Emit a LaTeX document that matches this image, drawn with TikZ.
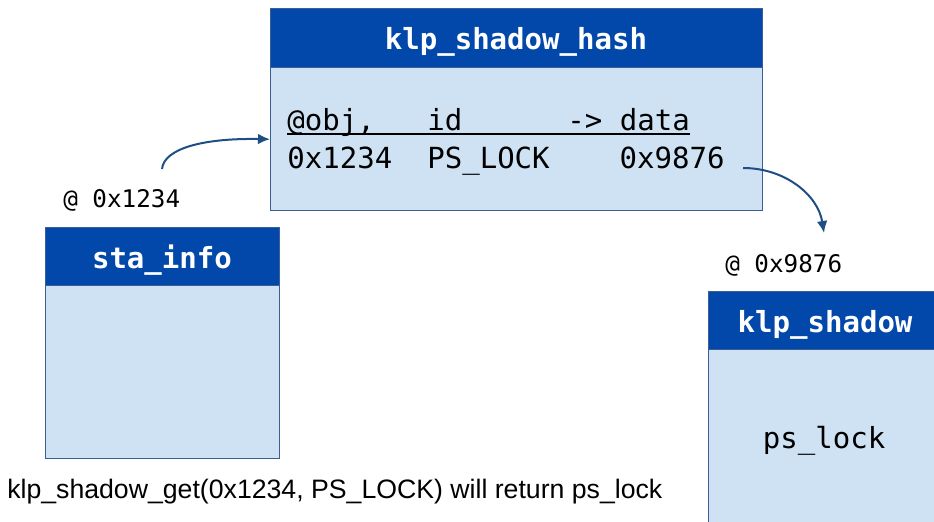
\documentclass[tikz,border=0pt]{standalone}
\usepackage{fontspec}
\setmainfont{Liberation Sans}
\setmonofont{DejaVu Sans Mono}
\usetikzlibrary{arrows.meta}
\definecolor{hdr}{HTML}{0148AA}
\definecolor{bodyc}{HTML}{CFE2F3}
\definecolor{edge}{HTML}{3A5F95}
\definecolor{arr}{HTML}{1F4E85}
\begin{document}
\begin{tikzpicture}[x=0.75pt,y=-0.75pt,
  hdrbox/.style={draw=edge, line width=1.1pt, fill=hdr, inner sep=0pt, anchor=north west},
  bodybox/.style={draw=edge, line width=1.1pt, fill=bodyc, inner sep=0pt, anchor=north west},
  hdrtxt/.style={anchor=base, inner sep=0pt, text=white, font=\ttfamily\bfseries\fontsize{21.8}{24}\selectfont},
  monotxt/.style={anchor=base west, inner sep=0pt, font=\ttfamily\fontsize{21.8}{24}\selectfont},
  addr/.style={anchor=base west, inner sep=0pt, font=\ttfamily\fontsize{18.2}{20}\selectfont},
  ptr/.style={draw=arr, line width=1.5pt, -{Latex[length=9pt,width=8pt]}},
]
\useasboundingbox (0,0) rectangle (934,521);
\clip (0,0) rectangle (934,521);

% klp_shadow_hash
\node[bodybox, minimum width=369pt, minimum height=107.25pt] (hashbody) at (270,67) {};
\node[hdrbox, minimum width=369pt, minimum height=44.25pt] (hashhdr) at (270,8) {};
\node[hdrtxt] (hashtitle) at (516,49) {klp\_shadow\_hash};
\node[monotxt] (row1) at (287,130) {@obj,~~~id~~~~~~->~data};
\node[monotxt] (row2) at (287,168) {0x1234~~PS\_LOCK~~~~0x9876};
\draw[line width=1.8pt] ([yshift=-3pt]row1.base west) -- ([yshift=-3pt]row1.base east);

% sta_info
\node[bodybox, minimum width=175.5pt, minimum height=129.75pt] (stabody) at (45,285) {};
\node[hdrbox, minimum width=175.5pt, minimum height=43.5pt] (stahdr) at (45,227) {};
\node[hdrtxt] (statitle) at (162,268) {sta\_info};
\node[addr] (addr1) at (63,207) {@ 0x1234};

% klp_shadow
\node[bodybox, minimum width=175.5pt, minimum height=129.75pt] (shbody) at (708,349) {};
\node[hdrbox, minimum width=175.5pt, minimum height=43.5pt] (shhdr) at (708,291) {};
\node[hdrtxt] (shtitle) at (825,332) {klp\_shadow};
\node[addr] (addr2) at (725,272) {@ 0x9876};
\node[anchor=base, inner sep=0pt, font=\ttfamily\fontsize{21.8}{24}\selectfont] (pslock) at (824,448) {ps\_lock};

% caption
\node[anchor=base west, inner sep=0pt, font=\fontsize{20}{24}\selectfont] (call) at (7,498) {klp\_shadow\_get(0x1234, PS\_LOCK) will return ps\_lock};

% pointers
\coordinate (p1) at (162,169);
\draw[ptr] (p1) .. controls (164,148) and (205,138) .. (hashbody.west);
\coordinate (p2) at (743,168);
\coordinate (p3) at (824,233);
\draw[ptr] (p2) .. controls (785,168) and (818,195) .. (p3);
\end{tikzpicture}
\end{document}
